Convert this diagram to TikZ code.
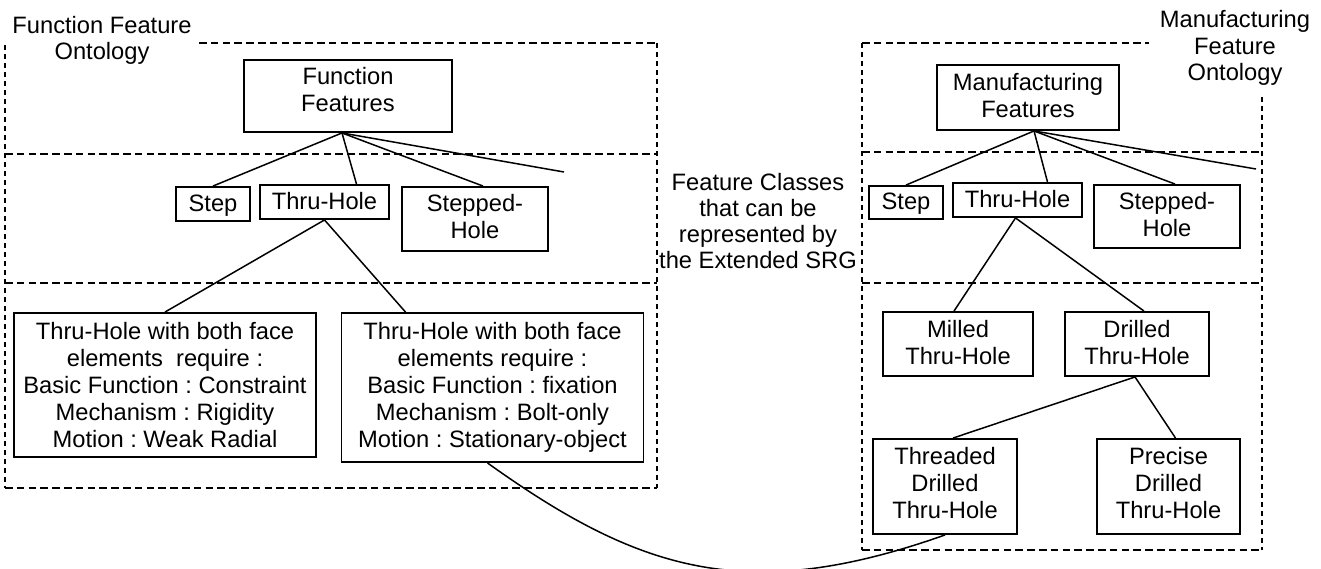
\documentclass[tikz,border=0pt]{standalone}
\usepackage{fontspec}
\setmainfont{Liberation Sans}
\frenchspacing
\usetikzlibrary{calc}
\begin{document}
\begin{tikzpicture}[x=1pt,y=-1pt,
  every node/.style={inner sep=0pt, align=center},
  lbl/.style={font=\fontsize{23.7}{26.2}\selectfont},
  txt/.style={font=\fontsize{23.7}{27}\selectfont, anchor=north},
  box/.style n args={2}{draw, line width=1.9pt, minimum width=#1pt, minimum height=#2pt},
  conn/.style={line width=1.5pt},
  hpanel/.style={line width=1.9pt, dash pattern=on 7.5pt off 4.3pt},
  vpanel/.style={line width=1.6pt, dash pattern=on 5pt off 4pt}]
\useasboundingbox (0,0) rectangle (1321,568);

% ---------- function feature ontology ----------
\draw[hpanel] (199,43) -- (657,43);
\draw[hpanel] (5,154) -- (657,154);
\draw[hpanel] (5,283) -- (657,283);
\draw[hpanel] (5,488) -- (657,488);
\draw[vpanel] (5,45) -- (5,488);
\draw[vpanel] (657,43) -- (657,488);
\node[lbl] (flabel) at (102,40) {Function Feature\\Ontology};

\node[box={208}{72}] (ff) at (348,96) {};
\node[txt] at ([yshift=-8.5pt]ff.north) {Function\\Features};
\node[box={74}{34}] (fstep) at (213,204) {};
\node[txt] at ([yshift=-8.5pt]fstep.north) {Step};
\node[box={129}{34}] (fth) at (324.5,202) {};
\node[txt] at ([yshift=-8.5pt]fth.north) {Thru-Hole};
\node[box={146}{64}] (fsh) at (475,219) {};
\node[txt] at ([yshift=-8.5pt]fsh.north) {Stepped-\\Hole};
\node[box={302}{144}] (fb1) at (165,385) {};
\node[txt] at ([yshift=-10pt]fb1.north) {Thru-Hole with both face\\elements\ \ require :\\Basic Function : Constraint\\Mechanism : Rigidity\\Motion : Weak Radial};
\node[box={302}{149}] (fb2) at (492.5,387.5) {};
\node[txt] at ([yshift=-10pt]fb2.north) {Thru-Hole with both face\\elements require :\\Basic Function : fixation\\Mechanism : Bolt-only\\Motion : Stationary-object};
\coordinate (fopen) at (564,172);

\coordinate (froot) at ([xshift=-6pt]ff.south);
\draw[conn] (froot) -- (fstep.north);
\draw[conn] (froot) -- ([xshift=32pt]fth.north);
\draw[conn] (froot) -- ([xshift=8pt]fsh.north);
\draw[conn] (froot) -- (fopen);
\draw[conn] (fth.south) -- (fb1.north);
\draw[conn] (fth.south) -- ([xshift=-87pt]fb2.north);

% ---------- middle caption ----------
\node[lbl] (mid) at (758,221) {Feature Classes\\that can be\\represented by\\the Extended SRG};

% ---------- manufacturing feature ontology ----------
\draw[hpanel] (862,43) -- (1149,43);
\draw[hpanel] (862,152) -- (1262,152);
\draw[hpanel] (862,283) -- (1262,283);
\draw[hpanel] (862,550) -- (1262,550);
\draw[vpanel] (862,43) -- (862,550);
\draw[vpanel] (1262,97) -- (1262,550);
\node[lbl] (mlabel) at (1235,48) {Manufacturing\\Feature\\Ontology};

\node[box={182}{65}] (mf) at (1028,97.5) {};
\node[txt] at ([yshift=-9pt]mf.north) {Manufacturing\\Features};
\node[box={74}{33}] (mstep) at (906,202.5) {};
\node[txt] at ([yshift=-8pt]mstep.north) {Step};
\node[box={129}{34}] (mth) at (1017.5,200) {};
\node[txt] at ([yshift=-8.5pt]mth.north) {Thru-Hole};
\node[box={146}{63}] (msh) at (1167,216.5) {};
\node[txt] at ([yshift=-8.5pt]msh.north) {Stepped-\\Hole};
\node[box={150}{64}] (mil) at (958,344) {};
\node[txt] at ([yshift=-9pt]mil.north) {Milled\\Thru-Hole};
\node[box={144}{64}] (dri) at (1137,344) {};
\node[txt] at ([yshift=-9pt]dri.north) {Drilled\\Thru-Hole};
\node[box={144}{95}] (thr) at (945,486.5) {};
\node[txt] at ([yshift=-9pt]thr.north) {Threaded\\Drilled\\Thru-Hole};
\node[box={143}{95}] (pre) at (1168.5,486.5) {};
\node[txt] at ([yshift=-9pt]pre.north) {Precise\\Drilled\\Thru-Hole};
\coordinate (mopen) at (1256,169);

\coordinate (mroot) at ([xshift=6pt]mf.south);
\draw[conn] (mroot) -- (mstep.north);
\draw[conn] (mroot) -- ([xshift=30pt]mth.north);
\draw[conn] (mroot) -- ([xshift=8pt]msh.north);
\draw[conn] (mroot) -- (mopen);
\draw[conn] ([xshift=-2pt]mth.south) -- ([xshift=-4pt]mil.north);
\draw[conn] ([xshift=-2pt]mth.south) -- ([xshift=7pt]dri.north);
\draw[conn] ([xshift=-2pt]dri.south) -- ([xshift=8pt]thr.north);
\draw[conn] ([xshift=-2pt]dri.south) -- ([xshift=7pt]pre.north);

% ---------- link between the two ontologies ----------
\draw[conn] ([xshift=-5pt]fb2.south) .. controls (640,572) and (747,605) .. (thr.south);
\end{tikzpicture}
\end{document}
